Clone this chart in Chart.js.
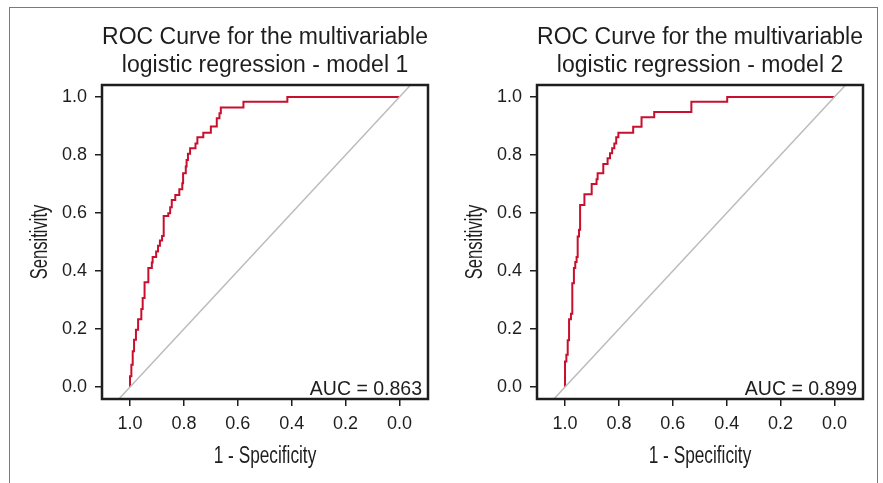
<!DOCTYPE html>
<html>
<head>
<meta charset="utf-8">
<script src="https://cdn.jsdelivr.net/npm/chart.js@4/dist/chart.umd.min.js"></script>
<style>
  html, body { margin: 0; padding: 0; background: #fff; }
  body { width: 883px; height: 483px; position: relative; overflow: hidden; }
  #frame { position: absolute; left: 9px; top: 7px; width: 869px; height: 520px;
           border: 1px solid #7a7a7a; box-sizing: border-box; }
  .pane { position: absolute; top: 0; width: 436px; height: 483px; }
  #p1 { left: 0; }
  #p2 { left: 435px; }
</style>
</head>
<body>
<div id="frame"></div>
<div class="pane" id="p1"><canvas id="c1"></canvas></div>
<div class="pane" id="p2"><canvas id="c2"></canvas></div>
<script>
// values (x axis is drawn reversed, 1.0 -> 0.0)
const tickVals = [0, 0.2, 0.4, 0.6, 0.8, 1.0];

const titles = [
  ['ROC Curve for the multivariable', 'logistic regression - model 1'],
  ['ROC Curve for the multivariable', 'logistic regression - model 2']
];
const aucVals = ['0.863', '0.899'];

const m1X = [1.000, 1.000, 0.995, 0.990, 0.985, 0.978, 0.970, 0.958, 0.953, 0.946,
             0.932, 0.919, 0.916, 0.903, 0.896, 0.889, 0.881, 0.875, 0.858, 0.851,
             0.845, 0.832, 0.817, 0.806, 0.803, 0.793, 0.790, 0.785, 0.777, 0.757,
             0.750, 0.728, 0.700, 0.678, 0.668, 0.663, 0.579, 0.416, 0.000];
const m1Y = [0.000, 0.037, 0.077, 0.123, 0.163, 0.197, 0.234, 0.269, 0.307, 0.361,
             0.410, 0.429, 0.448, 0.467, 0.487, 0.505, 0.521, 0.590, 0.599, 0.620,
             0.645, 0.662, 0.682, 0.703, 0.737, 0.760, 0.783, 0.804, 0.823, 0.840,
             0.861, 0.877, 0.898, 0.927, 0.944, 0.964, 0.984, 1.000, 1.000];

const m2X = [1.000, 1.000, 0.995, 0.990, 0.985, 0.978, 0.973, 0.967, 0.962, 0.957,
             0.953, 0.948, 0.944, 0.928, 0.901, 0.883, 0.879, 0.858, 0.842, 0.833,
             0.825, 0.817, 0.810, 0.802, 0.747, 0.716, 0.669, 0.531, 0.398, 0.000];
const m2Y = [0.000, 0.088, 0.111, 0.161, 0.234, 0.253, 0.358, 0.410, 0.431, 0.448,
             0.519, 0.542, 0.628, 0.665, 0.700, 0.716, 0.737, 0.769, 0.789, 0.806,
             0.823, 0.840, 0.861, 0.877, 0.897, 0.930, 0.948, 0.984, 1.000, 1.000];

// reference line sensitivity = 1 - x, running past the plot box on both ends
const diagX = [1.1, -0.1];
const diagY = [-0.1, 1.1];

const FONT = "'Liberation Sans', Arial, Helvetica, sans-serif";
const INK = '#1e1e1e';

const zip = (xs, ys) => xs.map((x, i) => ({x: x, y: ys[i]}));

// box round the plot area, the AUC note and the condensed axis titles
const decor = {
  id: 'decor',
  afterDraw(chart, args, opts) {
    const ctx = chart.ctx, a = chart.chartArea;
    ctx.save();
    ctx.strokeStyle = INK;
    ctx.lineWidth = 2.5;
    ctx.strokeRect(a.left, a.top, a.right - a.left, a.bottom - a.top);

    ctx.fillStyle = INK;
    ctx.font = '19.5px ' + FONT;
    ctx.textAlign = 'right';
    ctx.textBaseline = 'alphabetic';
    ctx.fillText('AUC = ' + opts.auc, a.right - 6, a.bottom - 4);

    ctx.font = '23px ' + FONT;
    ctx.textAlign = 'center';
    ctx.save();
    ctx.translate((a.left + a.right) / 2, 463);
    ctx.scale(0.75, 1);
    ctx.fillText('1 - Specificity', 0, 0);
    ctx.restore();

    ctx.save();
    ctx.translate(47, (a.top + a.bottom) / 2);
    ctx.rotate(-Math.PI / 2);
    ctx.scale(0.72, 1);
    ctx.fillText('Sensitivity', 0, 0);
    ctx.restore();
    ctx.restore();
  }
};

function makeChart(id, xs, ys, title, auc) {
  return new Chart(document.getElementById(id), {
    type: 'line',
    data: {
      datasets: [
        {
          data: zip(diagX, diagY),
          borderColor: '#bcbcbc',
          borderWidth: 1.5,
          pointRadius: 0
        },
        {
          data: zip(xs, ys),
          borderColor: '#c8102e',
          borderWidth: 2,
          pointRadius: 0,
          stepped: 'before'
        }
      ]
    },
    options: {
      responsive: true,
      maintainAspectRatio: false,
      animation: false,
      events: [],
      layout: { padding: { left: 0, right: 8, top: 0, bottom: 0 } },
      plugins: {
        legend: { display: false },
        tooltip: { enabled: false },
        title: {
          display: true,
          fullSize: false,
          text: title,
          color: INK,
          font: { family: FONT, size: 23, weight: 'normal', lineHeight: 28 / 23 },
          padding: { top: 24, bottom: 5 }
        },
        decor: { auc: auc }
      },
      scales: {
        x: {
          type: 'linear',
          reverse: true,
          min: -0.106,
          max: 1.104,
          afterBuildTicks: s => { s.ticks = tickVals.map(v => ({value: v})); },
          afterFit: s => { s.height = 84; },
          grid: { drawOnChartArea: false, drawTicks: true, tickLength: 7,
                  tickColor: INK, lineWidth: 1.5 },
          border: { display: false },
          ticks: { color: INK, padding: 7, font: { family: FONT, size: 18 },
                   callback: v => v.toFixed(1) }
        },
        y: {
          type: 'linear',
          min: -0.0414,
          max: 1.0414,
          afterBuildTicks: s => { s.ticks = tickVals.map(v => ({value: v})); },
          afterFit: s => { s.width = 102; },
          grid: { drawOnChartArea: false, drawTicks: true, tickLength: 7,
                  tickColor: INK, lineWidth: 1.5 },
          border: { display: false },
          ticks: { color: INK, padding: 8, font: { family: FONT, size: 18 },
                   callback: v => v.toFixed(1) }
        }
      }
    },
    plugins: [decor]
  });
}

makeChart('c1', m1X, m1Y, titles[0], aucVals[0]);
makeChart('c2', m2X, m2Y, titles[1], aucVals[1]);
</script>
</body>
</html>
